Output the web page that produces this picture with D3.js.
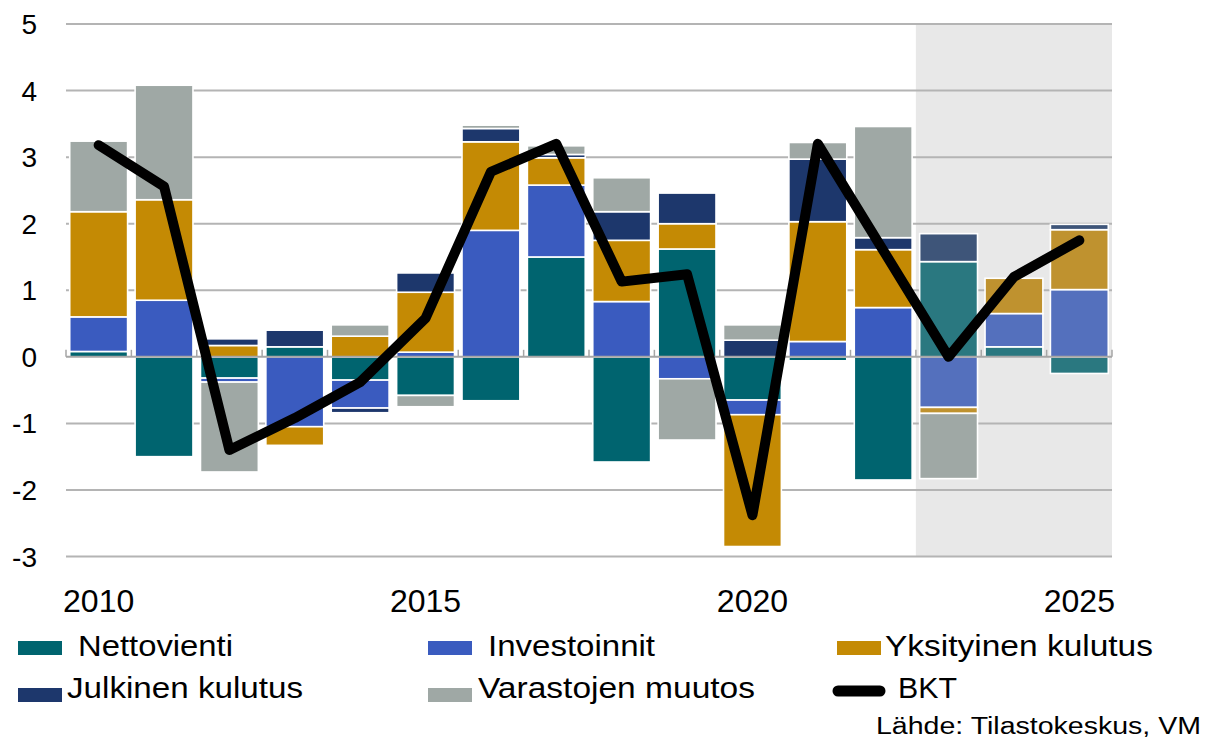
<!DOCTYPE html>
<html><head><meta charset="utf-8">
<script src="https://cdn.jsdelivr.net/npm/d3@7"></script>
<style>
body{margin:0;background:#fff;}
text{font-family:"Liberation Sans",Arial,sans-serif;fill:#000;}
</style></head>
<body><svg id="c" width="1211" height="747"></svg>
<script>
const years = [2010,2011,2012,2013,2014,2015,2016,2017,2018,2019,2020,2021,2022,2023,2024,2025];
const nettovienti = [0.08,-1.5,-0.32,0.15,-0.35,-0.58,-0.66,1.5,-1.58,1.62,-0.65,-0.06,-1.85,1.43,0.15,-0.25];
const investoinnit = [0.52,0.85,-0.06,-1.05,-0.42,0.07,1.9,1.08,0.83,-0.33,-0.22,0.23,0.74,-0.76,0.5,1.01];
const yksityinen = [1.58,1.51,0.17,-0.28,0.31,0.9,1.33,0.41,0.92,0.38,-1.98,1.8,0.87,-0.09,0.53,0.9];
const julkinen = [0,0,0.1,0.25,-0.07,0.29,0.2,0.05,0.43,0.46,0.25,0.94,0.18,0.42,0,0.08];
const varastot = [1.06,1.72,-1.35,0,0.17,-0.17,0.05,0.13,0.51,-0.92,0.23,0.25,1.67,-0.98,0,0];
const bkt = [3.18,2.56,-1.40,-0.92,-0.38,0.58,2.78,3.2,1.13,1.24,-2.38,3.2,1.6,0.0,1.2,1.75];
const forecastYears = [2023,2024,2025];
const yTicks = [-3,-2,-1,0,1,2,3,4,5];
const xLabelYears = [2010,2015,2020,2025];
const seriesNames = ["Nettovienti","Investoinnit","Yksityinen kulutus","Julkinen kulutus","Varastojen muutos"];
const colors = ["#00646f","#3a5bbf","#c48a04","#1d376c","#9fa8a5"];
const forecastColors = ["#2a7880","#5470bd","#bf922f","#3e5579","#9fa8a5"];
const sourceText = "Lähde: Tilastokeskus, VM";

const svg = d3.select("#c");
const x = d3.scaleBand().domain(years).range([66,1112]).paddingInner(0.115).paddingOuter(0.057);
const xStep = d3.scaleBand().domain(years).range([66,1112]);
const y = d3.scaleLinear().domain([-3,5]).range([556.5,24]);

// forecast shading
svg.append("rect").attr("x", xStep(forecastYears[0])).attr("y", y(5))
  .attr("width", 1112 - xStep(forecastYears[0])).attr("height", y(-3)-y(5)).attr("fill","#e8e8e8");

// gridlines
svg.append("g").selectAll("line").data(yTicks.filter(d=>d!==0)).join("line")
  .attr("x1",66).attr("x2",1112).attr("y1",d=>y(d)).attr("y2",d=>y(d))
  .attr("stroke","#b4b4b4").attr("stroke-width",2);

// y labels
svg.append("g").selectAll("text").data(yTicks).join("text")
  .attr("x",37).attr("y",d=>y(d)).attr("dy","0.36em").attr("text-anchor","end")
  .attr("font-size",28).text(d=>d);

// stacked bars
const table = years.map((yr,i)=>({year:yr, s0:nettovienti[i], s1:investoinnit[i], s2:yksityinen[i], s3:julkinen[i], s4:varastot[i]}));
const stack = d3.stack().keys(["s0","s1","s2","s3","s4"]).offset(d3.stackOffsetDiverging);
const layers = stack(table);
svg.append("g").selectAll("g").data(layers).join("g")
  .each(function(layer, li){
    d3.select(this).selectAll("rect").data(layer).join("rect")
      .attr("x", d=>x(d.data.year))
      .attr("width", x.bandwidth())
      .attr("y", d=>y(Math.max(d[0],d[1])))
      .attr("height", d=>Math.abs(y(d[0])-y(d[1])))
      .attr("fill", d=>forecastYears.includes(d.data.year)?forecastColors[li]:colors[li])
      .attr("stroke","#fff").attr("stroke-width",1.6);
  });

// zero axis with ticks at band boundaries
svg.append("line").attr("x1",66).attr("x2",1112).attr("y1",y(0)).attr("y2",y(0))
  .attr("stroke","#a6a6a6").attr("stroke-width",2);
svg.append("g").selectAll("line").data(years.concat([null])).join("line")
  .attr("x1",d=>d===null?1112:xStep(d)).attr("x2",d=>d===null?1112:xStep(d))
  .attr("y1",y(0)-7).attr("y2",y(0)).attr("stroke","#a6a6a6").attr("stroke-width",1.5);

// x labels
svg.append("g").selectAll("text").data(xLabelYears).join("text")
  .attr("x",d=>x(d)+x.bandwidth()/2).attr("y",612).attr("text-anchor","middle")
  .attr("font-size",32).text(d=>d);

// BKT line
const line = d3.line().x((d,i)=>x(years[i])+x.bandwidth()/2).y(d=>y(d));
svg.append("path").attr("d",line(bkt)).attr("fill","none").attr("stroke","#000")
  .attr("stroke-width",10).attr("stroke-linejoin","round").attr("stroke-linecap","round");

// legend
const legendItems = [
  {name:seriesNames[0], c:colors[0], rx:18, ry:641, tx:78, ty:656, tl:155},
  {name:seriesNames[1], c:colors[1], rx:428, ry:641, tx:488, ty:656, tl:167},
  {name:seriesNames[2], c:colors[2], rx:837, ry:641, tx:885, ty:656, tl:268},
  {name:seriesNames[3], c:colors[3], rx:18, ry:688, tx:67, ty:698, tl:236},
  {name:seriesNames[4], c:colors[4], rx:428, ry:688, tx:478, ty:698, tl:277}
];
const lg = svg.append("g");
legendItems.forEach(it=>{
  lg.append("rect").attr("x",it.rx).attr("y",it.ry).attr("width",44).attr("height",14).attr("fill",it.c);
  lg.append("text").attr("x",it.tx).attr("y",it.ty).attr("font-size",29)
    .attr("textLength",it.tl).attr("lengthAdjust","spacingAndGlyphs").text(it.name);
});
lg.append("line").attr("x1",838).attr("x2",880).attr("y1",691).attr("y2",691)
  .attr("stroke","#000").attr("stroke-width",11).attr("stroke-linecap","round");
lg.append("text").attr("x",898).attr("y",698).attr("font-size",29)
  .attr("textLength",59).attr("lengthAdjust","spacingAndGlyphs").text("BKT");

svg.append("text").attr("x",876).attr("y",734).attr("font-size",23)
  .attr("textLength",325).attr("lengthAdjust","spacingAndGlyphs").text(sourceText);
</script></body></html>
